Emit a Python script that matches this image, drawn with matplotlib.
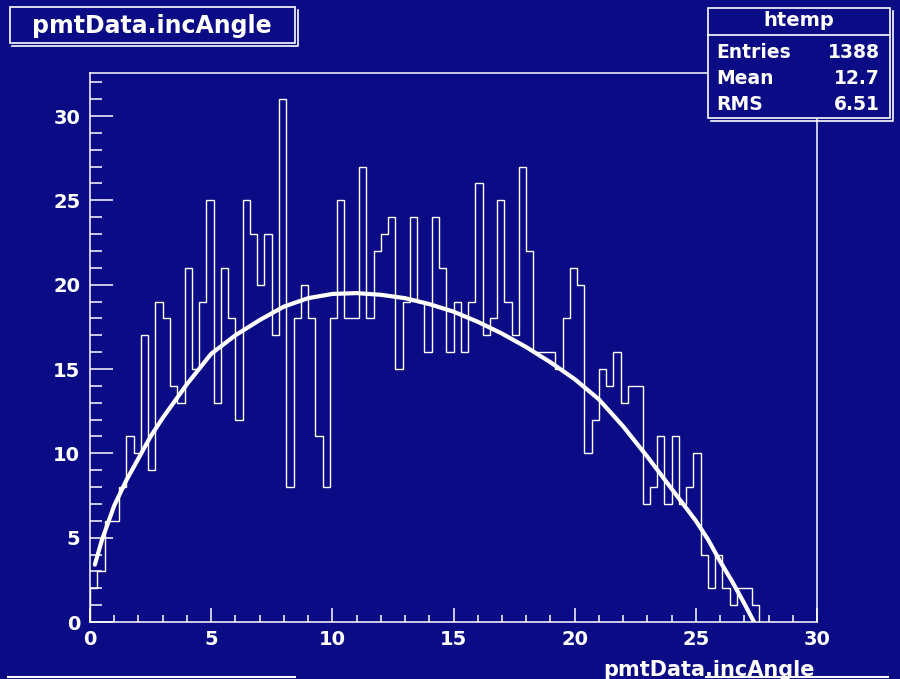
import numpy as np
import matplotlib
matplotlib.use("Agg")
import matplotlib.pyplot as plt
from matplotlib.patches import Rectangle
from matplotlib.lines import Line2D
from matplotlib.ticker import MultipleLocator

# histogram contents, 0.3 wide bins starting at 0
counts = [2, 3, 6, 6, 8, 11, 10, 17, 9, 19,
          18, 14, 13, 21, 15, 19, 25, 13, 21, 18,
          12, 25, 23, 20, 23, 17, 31, 8, 18, 20,
          18, 11, 8, 18, 25, 18, 18, 27, 18, 22,
          23, 24, 15, 19, 24, 19, 16, 24, 21, 16,
          19, 16, 19, 26, 17, 18, 25, 19, 17, 27,
          22, 16, 16, 16, 15, 18, 21, 20, 10, 12,
          15, 14, 16, 13, 14, 14, 7, 8, 11, 7,
          11, 7, 8, 10, 4, 2, 4, 2, 1, 2, 2, 1]
bin_width = 0.3

# fitted curve
fit_x = [0.2, 0.5, 1, 1.5, 2, 2.5, 3, 3.5, 4, 4.5, 5, 6, 7, 8, 9, 10, 11, 12,
         13, 14, 15, 16, 17, 18, 19, 20, 21, 22, 23, 24, 25, 25.5, 26, 26.5,
         27, 27.4]
fit_y = [3.4, 4.9, 6.9, 8.4, 9.7, 11.0, 12.1, 13.1, 14.1, 15.0, 15.9, 17.0,
         17.9, 18.7, 19.2, 19.45, 19.5, 19.4, 19.2, 18.85, 18.4, 17.8, 17.1,
         16.3, 15.4, 14.4, 13.2, 11.6, 9.8, 7.9, 6.0, 4.9, 3.6, 2.4, 1.1, 0.0]

hist_title = "pmtData.incAngle"
stats_name = "htemp"
stats_rows = [("Entries", "1388"), ("Mean", "12.7"), ("RMS", "6.51")]

bg = "#0b0b85"
fg = "white"
W, H = 900, 679
FONT = "DejaVu Sans"


def fx(x):
    return x / W


def fy(y):
    return 1 - y / H


fig = plt.figure(figsize=(9, 6.79), dpi=100, facecolor=bg)
ax = fig.add_axes([fx(90), fy(622), fx(817) - fx(90), fy(73) - fy(622)],
                  facecolor=bg)

edges = np.arange(len(counts) + 1) * bin_width
ax.stairs(counts, edges, color=fg, lw=1.0, baseline=0)
ax.plot(fit_x, fit_y, color=fg, lw=3.0, solid_capstyle="round")

ax.set_xlim(0, 30)
ax.set_ylim(0, 32.55)
ax.xaxis.set_major_locator(MultipleLocator(5))
ax.xaxis.set_minor_locator(MultipleLocator(1))
ax.yaxis.set_major_locator(MultipleLocator(5))
ax.yaxis.set_minor_locator(MultipleLocator(1))

for s in ax.spines.values():
    s.set_color(fg)
    s.set_linewidth(1.1)

ax.tick_params(axis="x", which="major", direction="in", length=10, width=1.1,
               color=fg, labelcolor=fg, pad=6, labelsize=14)
ax.tick_params(axis="x", which="minor", direction="in", length=5, width=1.1,
               color=fg)
ax.tick_params(axis="y", which="major", direction="in", length=16.5, width=1.1,
               color=fg, labelcolor=fg, pad=7, labelsize=14)
ax.tick_params(axis="y", which="minor", direction="in", length=8.5, width=1.1,
               color=fg)
for lab in ax.get_xticklabels() + ax.get_yticklabels():
    lab.set_fontweight("bold")
    lab.set_fontfamily(FONT)

# title pave with shadow
fig.add_artist(Rectangle((fx(10), fy(43)), fx(295) - fx(10), fy(7) - fy(43),
                         transform=fig.transFigure, facecolor=bg,
                         edgecolor=fg, lw=1.2, zorder=5))
fig.add_artist(Line2D([fx(12), fx(298), fx(298)], [fy(46), fy(46), fy(10)],
                      transform=fig.transFigure, color=fg, lw=1.2, zorder=5))
fig.text(fx(152), fy(26), hist_title, ha="center", va="center", color=fg,
         fontsize=17, fontweight="bold", family=FONT, zorder=6)

# statistics box
fig.add_artist(Rectangle((fx(708), fy(118)), fx(890) - fx(708), fy(8) - fy(118),
                         transform=fig.transFigure, facecolor=bg,
                         edgecolor=fg, lw=1.2, zorder=5))
fig.add_artist(Line2D([fx(711), fx(893), fx(893)], [fy(121), fy(121), fy(11)],
                      transform=fig.transFigure, color=fg, lw=1.2, zorder=5))
fig.add_artist(Line2D([fx(708), fx(890)], [fy(35), fy(35)],
                      transform=fig.transFigure, color=fg, lw=1.2, zorder=6))
fig.text(fx(799), fy(21), stats_name, ha="center", va="center", color=fg,
         fontsize=14, fontweight="bold", family=FONT, zorder=6)
for i, (name, val) in enumerate(stats_rows):
    yy = fy(52 + i * 26.5)
    fig.text(fx(716), yy, name, ha="left", va="center", color=fg,
             fontsize=13.5, fontweight="bold", family=FONT, zorder=6)
    fig.text(fx(880), yy, val, ha="right", va="center", color=fg,
             fontsize=13.5, fontweight="bold", family=FONT, zorder=6)

# axis title, bottom right
fig.text(fx(815), fy(676), hist_title, ha="right", va="baseline", color=fg,
         fontsize=15, fontweight="bold", family=FONT)

# edges of the panes below
for x0, x1 in [(8, 295), (706, 888)]:
    fig.add_artist(Line2D([fx(x0), fx(x1)], [fy(677), fy(677)],
                          transform=fig.transFigure, color=fg, lw=1.5))

fig.savefig("out.png", dpi=100, facecolor=bg)
